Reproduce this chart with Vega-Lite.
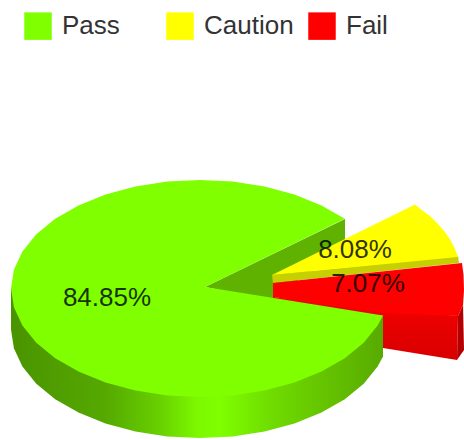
{
  "$schema": "https://vega.github.io/schema/vega-lite/v6.json",
  "width": 464,
  "height": 440,
  "padding": 0,
  "autosize": {"type": "fit", "contains": "padding"},
  "background": "white",
  "view": {"stroke": null},
  "config": {"font": "Liberation Sans"},
  "datasets": {
    "shares": [
      {"status": "Pass", "share": 0.8485, "cx": 107, "cy": 298},
      {"status": "Caution", "share": 0.0808, "cx": 355, "cy": 250},
      {"status": "Fail", "share": 0.0707, "cx": 368, "cy": 284}
    ],
    "outlines": [
      {"part": "inner", "x": 205, "y": 287}, {"part": "inner", "x": 345, "y": 219}, {"part": "inner", "x": 345, "y": 245}, {"part": "inner", "x": 272, "y": 300}, {"part": "inner", "x": 205, "y": 287},

      {"part": "cautionWall", "x": 272, "y": 275}, {"part": "cautionWall", "x": 458, "y": 256}, {"part": "cautionWall", "x": 459, "y": 263}, {"part": "cautionWall", "x": 273, "y": 283}, {"part": "cautionWall", "x": 272, "y": 275},

      {"part": "cautionTop", "status": "Caution", "x": 272, "y": 275}, {"part": "cautionTop", "status": "Caution", "x": 415, "y": 204.5}, {"part": "cautionTop", "status": "Caution", "x": 423, "y": 211}, {"part": "cautionTop", "status": "Caution", "x": 430, "y": 216}, {"part": "cautionTop", "status": "Caution", "x": 438, "y": 224}, {"part": "cautionTop", "status": "Caution", "x": 445, "y": 232}, {"part": "cautionTop", "status": "Caution", "x": 451, "y": 241}, {"part": "cautionTop", "status": "Caution", "x": 455, "y": 249}, {"part": "cautionTop", "status": "Caution", "x": 458, "y": 257}, {"part": "cautionTop", "status": "Caution", "x": 272, "y": 275},

      {"part": "failWall", "x": 273, "y": 297}, {"part": "failWall", "x": 458, "y": 316}, {"part": "failWall", "x": 457, "y": 360}, {"part": "failWall", "x": 383, "y": 348}, {"part": "failWall", "x": 273, "y": 340}, {"part": "failWall", "x": 273, "y": 297},

      {"part": "failEnd", "x": 458, "y": 316}, {"part": "failEnd", "x": 463, "y": 305}, {"part": "failEnd", "x": 464, "y": 350}, {"part": "failEnd", "x": 457, "y": 360}, {"part": "failEnd", "x": 458, "y": 316},

      {"part": "failTop", "status": "Fail", "x": 273, "y": 283}, {"part": "failTop", "status": "Fail", "x": 462, "y": 263}, {"part": "failTop", "status": "Fail", "x": 463.5, "y": 275}, {"part": "failTop", "status": "Fail", "x": 464, "y": 290}, {"part": "failTop", "status": "Fail", "x": 463, "y": 305}, {"part": "failTop", "status": "Fail", "x": 458, "y": 316}, {"part": "failTop", "status": "Fail", "x": 383, "y": 313}, {"part": "failTop", "status": "Fail", "x": 273, "y": 297}, {"part": "failTop", "status": "Fail", "x": 273, "y": 283},

      {"part": "passWall", "x": 11, "y": 288.5}, {"part": "passWall", "x": 11, "y": 329.5}, {"part": "passWall", "x": 13.9, "y": 348.3}, {"part": "passWall", "x": 22.4, "y": 366.6}, {"part": "passWall", "x": 36.3, "y": 383.8}, {"part": "passWall", "x": 55.2, "y": 399.3}, {"part": "passWall", "x": 78.5, "y": 412.6}, {"part": "passWall", "x": 105.5, "y": 423.5}, {"part": "passWall", "x": 135.4, "y": 431.5}, {"part": "passWall", "x": 167.2, "y": 436.4}, {"part": "passWall", "x": 200, "y": 438}, {"part": "passWall", "x": 232.8, "y": 436.4}, {"part": "passWall", "x": 264.6, "y": 431.5}, {"part": "passWall", "x": 294.5, "y": 423.5}, {"part": "passWall", "x": 321.5, "y": 412.6}, {"part": "passWall", "x": 344.8, "y": 399.3}, {"part": "passWall", "x": 363.7, "y": 383.8}, {"part": "passWall", "x": 377.6, "y": 366.6}, {"part": "passWall", "x": 383, "y": 356.6}, {"part": "passWall", "x": 383, "y": 315.6}, {"part": "passWall", "x": 11, "y": 288.5},

      {"part": "passTop", "status": "Pass", "x": 205, "y": 287}, {"part": "passTop", "status": "Pass", "x": 344.8, "y": 218.7}, {"part": "passTop", "status": "Pass", "x": 321.5, "y": 205.4}, {"part": "passTop", "status": "Pass", "x": 294.5, "y": 194.5}, {"part": "passTop", "status": "Pass", "x": 264.6, "y": 186.5}, {"part": "passTop", "status": "Pass", "x": 232.8, "y": 181.6}, {"part": "passTop", "status": "Pass", "x": 200, "y": 180}, {"part": "passTop", "status": "Pass", "x": 167.2, "y": 181.6}, {"part": "passTop", "status": "Pass", "x": 135.4, "y": 186.5}, {"part": "passTop", "status": "Pass", "x": 105.5, "y": 194.5}, {"part": "passTop", "status": "Pass", "x": 78.5, "y": 205.4}, {"part": "passTop", "status": "Pass", "x": 55.2, "y": 218.7}, {"part": "passTop", "status": "Pass", "x": 36.3, "y": 234.3}, {"part": "passTop", "status": "Pass", "x": 22.4, "y": 251.4}, {"part": "passTop", "status": "Pass", "x": 13.9, "y": 269.7}, {"part": "passTop", "status": "Pass", "x": 11, "y": 288.5}, {"part": "passTop", "status": "Pass", "x": 13.9, "y": 307.3}, {"part": "passTop", "status": "Pass", "x": 22.4, "y": 325.6}, {"part": "passTop", "status": "Pass", "x": 36.3, "y": 342.8}, {"part": "passTop", "status": "Pass", "x": 55.2, "y": 358.3}, {"part": "passTop", "status": "Pass", "x": 78.5, "y": 371.6}, {"part": "passTop", "status": "Pass", "x": 105.5, "y": 382.5}, {"part": "passTop", "status": "Pass", "x": 135.4, "y": 390.5}, {"part": "passTop", "status": "Pass", "x": 167.2, "y": 395.4}, {"part": "passTop", "status": "Pass", "x": 200, "y": 397}, {"part": "passTop", "status": "Pass", "x": 232.8, "y": 395.4}, {"part": "passTop", "status": "Pass", "x": 264.6, "y": 390.5}, {"part": "passTop", "status": "Pass", "x": 294.5, "y": 382.5}, {"part": "passTop", "status": "Pass", "x": 321.5, "y": 371.6}, {"part": "passTop", "status": "Pass", "x": 344.8, "y": 358.3}, {"part": "passTop", "status": "Pass", "x": 363.7, "y": 342.8}, {"part": "passTop", "status": "Pass", "x": 377.6, "y": 325.6}, {"part": "passTop", "status": "Pass", "x": 383, "y": 315.6}, {"part": "passTop", "status": "Pass", "x": 205, "y": 287}
    ]
  },
  "data": {"name": "outlines"},
  "encoding": {
    "x": {"field": "x", "type": "quantitative", "axis": null, "scale": {"domain": [0, 464], "nice": false, "zero": false}},
    "y": {"field": "y", "type": "quantitative", "axis": null, "scale": {"domain": [440, 0], "nice": false, "zero": false}},
    "order": {"value": null}
  },
  "layer": [
    {
      "transform": [{"filter": "datum.part === 'inner'"}],
      "mark": {"type": "line", "fill": "#5fb300", "strokeWidth": 0}
    },
    {
      "transform": [{"filter": "datum.part === 'cautionWall'"}],
      "mark": {"type": "line", "fill": "#c6cf00", "strokeWidth": 0}
    },
    {
      "transform": [{"filter": "datum.part === 'failWall'"}],
      "mark": {
        "type": "line",
        "strokeWidth": 0,
        "fill": {
          "gradient": "linear", "x1": 0, "y1": 0, "x2": 0, "y2": 1,
          "stops": [{"offset": 0, "color": "#f40000"}, {"offset": 0.45, "color": "#e80000"}, {"offset": 1, "color": "#d80000"}]
        }
      }
    },
    {
      "transform": [{"filter": "datum.part === 'failEnd'"}],
      "mark": {"type": "line", "fill": "#b40000", "strokeWidth": 0}
    },
    {
      "transform": [{"filter": "datum.part === 'passWall'"}],
      "mark": {
        "type": "line",
        "strokeWidth": 0,
        "fill": {
          "gradient": "linear", "x1": 0, "y1": 0, "x2": 1, "y2": 0,
          "stops": [
            {"offset": 0, "color": "#4a9400"},
            {"offset": 0.25, "color": "#55a800"},
            {"offset": 0.4, "color": "#68d000"},
            {"offset": 0.5, "color": "#7cf800"},
            {"offset": 0.56, "color": "#7fff00"},
            {"offset": 0.7, "color": "#6fdc00"},
            {"offset": 1, "color": "#58aa00"}
          ]
        }
      }
    },
    {
      "transform": [{"filter": "datum.part === 'cautionTop' || datum.part === 'failTop' || datum.part === 'passTop'"}],
      "mark": {"type": "line", "strokeWidth": 0},
      "encoding": {
        "detail": {"field": "part"},
        "fill": {
          "field": "status",
          "type": "nominal",
          "scale": {"domain": ["Pass", "Caution", "Fail"], "range": ["#7fff00", "#ffff00", "#ff0000"]},
          "legend": {
            "title": null,
            "orient": "none",
            "legendX": 24,
            "legendY": 12,
            "direction": "horizontal",
            "columns": 3,
            "gridAlign": "all",
            "columnPadding": 14,
            "padding": 0,
            "symbolType": "square",
            "symbolSize": 756,
            "symbolStrokeWidth": 0,
            "symbolOpacity": 1,
            "labelOffset": 10,
            "labelFontSize": 26,
            "labelColor": "#333333",
            "labelFont": "Liberation Sans"
          }
        }
      }
    },
    {
      "data": {"name": "shares"},
      "mark": {"type": "text", "font": "Liberation Sans", "fontSize": 26, "align": "center", "baseline": "middle", "color": "#000000", "opacity": 0.8},
      "encoding": {
        "x": {"field": "cx", "type": "quantitative"},
        "y": {"field": "cy", "type": "quantitative"},
        "text": {"field": "share", "type": "quantitative", "format": ".2%"}
      }
    }
  ]
}
